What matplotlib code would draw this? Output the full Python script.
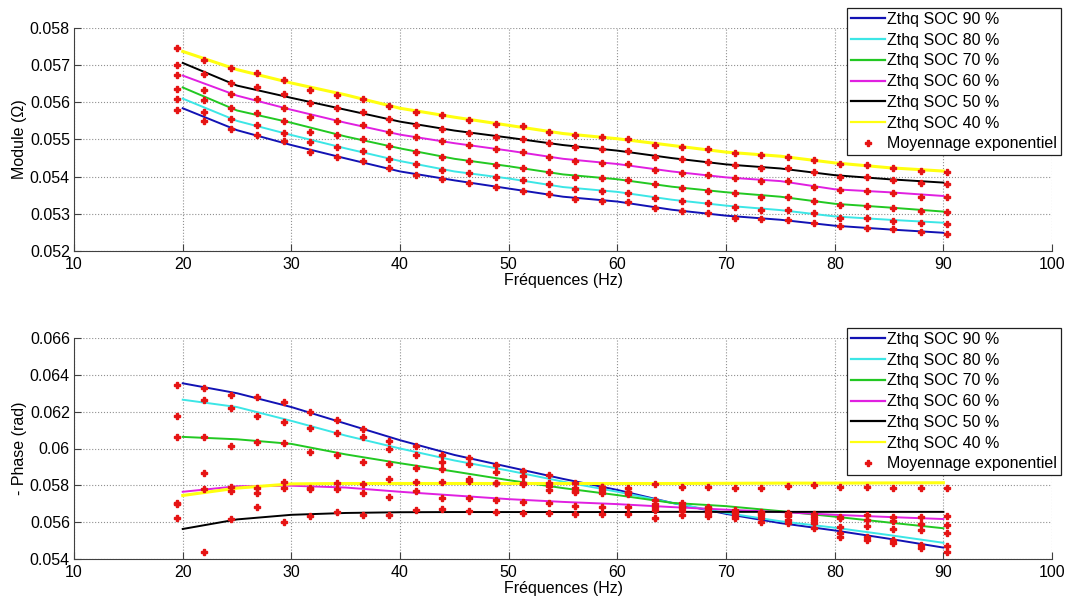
import numpy as np
import matplotlib
matplotlib.use('Agg')
import matplotlib.pyplot as plt
from matplotlib.ticker import FuncFormatter

plt.rcParams['font.family'] = ['Liberation Sans', 'DejaVu Sans']
plt.rcParams['font.size'] = 11.5

# frequencies of the averaged points and of the fitted curves
freq_pts = [19.5, 22.0, 24.4, 26.8, 29.3, 31.7, 34.2, 36.6, 39.0, 41.5,
            43.9, 46.3, 48.8, 51.3, 53.7, 56.1, 58.6, 61.0, 63.5, 65.9,
            68.3, 70.8, 73.2, 75.7, 78.1, 80.5, 83.0, 85.4, 87.9, 90.3]
freq_line = [20, 25, 30, 35, 40, 45, 50, 55, 60, 65, 70, 75, 80, 85, 90]

soc_labels = ['Zthq SOC 90 %', 'Zthq SOC 80 %', 'Zthq SOC 70 %',
              'Zthq SOC 60 %', 'Zthq SOC 50 %', 'Zthq SOC 40 %']
soc_colors = ['#1212b4', '#3ce6e6', '#22c822', '#e020e0', '#000000', '#ffff10']

# --- module (Ohm), fitted curves
mod_90 = [0.05584, 0.05525, 0.05485, 0.05449, 0.05414, 0.05390, 0.05368, 0.05346,
          0.05333, 0.05311, 0.05295, 0.05284, 0.05268, 0.05258, 0.05249]
mod_80 = [0.05610, 0.05550, 0.05512, 0.05476, 0.05442, 0.05414, 0.05395, 0.05372,
          0.05359, 0.05338, 0.05322, 0.05310, 0.05293, 0.05284, 0.05276]
mod_70 = [0.05640, 0.05578, 0.05545, 0.05508, 0.05476, 0.05448, 0.05428, 0.05406,
          0.05393, 0.05373, 0.05358, 0.05346, 0.05327, 0.05317, 0.05306]
mod_60 = [0.05672, 0.05618, 0.05580, 0.05545, 0.05513, 0.05490, 0.05470, 0.05448,
          0.05434, 0.05414, 0.05398, 0.05388, 0.05366, 0.05358, 0.05348]
mod_50 = [0.05706, 0.05645, 0.05612, 0.05580, 0.05548, 0.05524, 0.05505, 0.05485,
          0.05470, 0.05450, 0.05433, 0.05422, 0.05404, 0.05393, 0.05384]
mod_40 = [0.05737, 0.05688, 0.05652, 0.05620, 0.05584, 0.05560, 0.05538, 0.05516,
          0.05502, 0.05484, 0.05466, 0.05455, 0.05437, 0.05424, 0.05415]

# --- module, exponential averaging points
mod_pts_90 = [0.05580, 0.05551, 0.05529, 0.05512, 0.05495, 0.05467, 0.05452, 0.05441, 0.05423, 0.05405,
              0.05394, 0.05384, 0.05371, 0.05362, 0.05353, 0.05339, 0.05335, 0.05332, 0.05315, 0.05308,
              0.05303, 0.05290, 0.05286, 0.05283, 0.05276, 0.05267, 0.05263, 0.05258, 0.05250, 0.05247]
mod_pts_80 = [0.05609, 0.05574, 0.05556, 0.05539, 0.05517, 0.05492, 0.05481, 0.05468, 0.05448, 0.05433,
              0.05418, 0.05409, 0.05400, 0.05390, 0.05379, 0.05366, 0.05361, 0.05357, 0.05342, 0.05335,
              0.05328, 0.05318, 0.05310, 0.05310, 0.05301, 0.05290, 0.05288, 0.05282, 0.05274, 0.05273]
mod_pts_70 = [0.05636, 0.05607, 0.05584, 0.05571, 0.05551, 0.05520, 0.05511, 0.05501, 0.05483, 0.05466,
              0.05454, 0.05442, 0.05432, 0.05424, 0.05412, 0.05400, 0.05396, 0.05391, 0.05380, 0.05369,
              0.05362, 0.05355, 0.05346, 0.05344, 0.05335, 0.05324, 0.05321, 0.05315, 0.05308, 0.05304]
mod_pts_60 = [0.05673, 0.05634, 0.05623, 0.05610, 0.05586, 0.05560, 0.05549, 0.05539, 0.05520, 0.05506,
              0.05496, 0.05484, 0.05474, 0.05465, 0.05454, 0.05442, 0.05436, 0.05433, 0.05418, 0.05411,
              0.05405, 0.05396, 0.05388, 0.05387, 0.05373, 0.05364, 0.05362, 0.05357, 0.05346, 0.05344]
mod_pts_50 = [0.05700, 0.05677, 0.05652, 0.05640, 0.05622, 0.05597, 0.05584, 0.05574, 0.05555, 0.05539,
              0.05529, 0.05517, 0.05508, 0.05502, 0.05490, 0.05479, 0.05474, 0.05470, 0.05454, 0.05447,
              0.05439, 0.05430, 0.05424, 0.05423, 0.05413, 0.05400, 0.05398, 0.05391, 0.05384, 0.05380]
mod_pts_40 = [0.05746, 0.05713, 0.05692, 0.05680, 0.05661, 0.05632, 0.05621, 0.05610, 0.05591, 0.05575,
              0.05565, 0.05553, 0.05542, 0.05535, 0.05520, 0.05511, 0.05506, 0.05502, 0.05486, 0.05481,
              0.05474, 0.05463, 0.05459, 0.05454, 0.05445, 0.05433, 0.05431, 0.05423, 0.05415, 0.05412]

# --- minus phase (rad), fitted curves
ph_90 = [0.06354, 0.06300, 0.06225, 0.06135, 0.06045, 0.05965, 0.05900, 0.05835,
         0.05775, 0.05705, 0.05645, 0.05595, 0.05555, 0.05510, 0.05462]
ph_80 = [0.06265, 0.06225, 0.06150, 0.06070, 0.06000, 0.05935, 0.05880, 0.05820,
         0.05765, 0.05705, 0.05650, 0.05605, 0.05570, 0.05530, 0.05488]
ph_70 = [0.06063, 0.06050, 0.06025, 0.05968, 0.05920, 0.05875, 0.05828, 0.05785,
         0.05747, 0.05705, 0.05687, 0.05660, 0.05630, 0.05598, 0.05567]
ph_60 = [0.05765, 0.05795, 0.05798, 0.05788, 0.05765, 0.05745, 0.05725, 0.05710,
         0.05698, 0.05682, 0.05668, 0.05655, 0.05640, 0.05628, 0.05617]
ph_50 = [0.05563, 0.05615, 0.05640, 0.05650, 0.05654, 0.05655, 0.05655, 0.05655,
         0.05655, 0.05656, 0.05656, 0.05656, 0.05656, 0.05656, 0.05656]
ph_40 = [0.05745, 0.05785, 0.05808, 0.05810, 0.05810, 0.05810, 0.05810, 0.05810,
         0.05810, 0.05810, 0.05811, 0.05812, 0.05812, 0.05813, 0.05814]

# --- minus phase, exponential averaging points
ph_pts_90 = [0.06343, 0.06331, 0.06291, 0.06280, 0.06253, 0.06197, 0.06154, 0.06107, 0.06040, 0.06014,
             0.05967, 0.05946, 0.05913, 0.05877, 0.05855, 0.05810, 0.05792, 0.05751, 0.05720, 0.05687,
             0.05662, 0.05633, 0.05602, 0.05597, 0.05566, 0.05517, 0.05503, 0.05485, 0.05458, 0.05440]
ph_pts_80 = [0.06179, 0.06266, 0.06222, 0.06175, 0.06145, 0.06114, 0.06083, 0.06065, 0.06000, 0.05964,
             0.05924, 0.05915, 0.05873, 0.05852, 0.05814, 0.05788, 0.05774, 0.05765, 0.05698, 0.05675,
             0.05651, 0.05620, 0.05620, 0.05611, 0.05597, 0.05539, 0.05517, 0.05503, 0.05476, 0.05472]
ph_pts_70 = [0.06061, 0.06063, 0.06014, 0.06036, 0.06031, 0.05980, 0.05966, 0.05929, 0.05915, 0.05892,
             0.05886, 0.05834, 0.05814, 0.05805, 0.05774, 0.05770, 0.05756, 0.05765, 0.05680, 0.05705,
             0.05684, 0.05666, 0.05648, 0.05648, 0.05611, 0.05575, 0.05579, 0.05561, 0.05557, 0.05543]
ph_pts_60 = [0.05702, 0.05781, 0.05789, 0.05756, 0.05783, 0.05780, 0.05778, 0.05760, 0.05738, 0.05770,
             0.05732, 0.05729, 0.05720, 0.05711, 0.05705, 0.05687, 0.05684, 0.05680, 0.05666, 0.05662,
             0.05675, 0.05648, 0.05639, 0.05633, 0.05644, 0.05630, 0.05611, 0.05606, 0.05590, 0.05584]
ph_pts_50 = [0.05624, 0.05440, 0.05615, 0.05680, 0.05602, 0.05633, 0.05655, 0.05639, 0.05639, 0.05666,
             0.05671, 0.05660, 0.05657, 0.05648, 0.05648, 0.05644, 0.05644, 0.05642, 0.05620, 0.05639,
             0.05633, 0.05657, 0.05657, 0.05639, 0.05630, 0.05620, 0.05639, 0.05630, 0.05630, 0.05633]
ph_pts_40 = [0.05700, 0.05868, 0.05770, 0.05783, 0.05819, 0.05787, 0.05814, 0.05807, 0.05835, 0.05819,
             0.05819, 0.05823, 0.05810, 0.05810, 0.05796, 0.05765, 0.05790, 0.05783, 0.05807, 0.05792,
             0.05792, 0.05788, 0.05788, 0.05796, 0.05802, 0.05792, 0.05792, 0.05788, 0.05783, 0.05788]

mod_lines = [mod_90, mod_80, mod_70, mod_60, mod_50, mod_40]
mod_pts = [mod_pts_90, mod_pts_80, mod_pts_70, mod_pts_60, mod_pts_50, mod_pts_40]
ph_lines = [ph_90, ph_80, ph_70, ph_60, ph_50, ph_40]
ph_pts = [ph_pts_90, ph_pts_80, ph_pts_70, ph_pts_60, ph_pts_50, ph_pts_40]


def draw_panel(ax, lines, pts, ylim, yticks, ylabel, legend_top):
    for vals, col, lab in zip(lines, soc_colors, soc_labels):
        lw = 2.2 if col == '#ffff10' else 1.4
        ax.plot(freq_line, vals, color=col, lw=lw, label=lab)
    for i, vals in enumerate(pts):
        ax.plot(freq_pts, vals, linestyle='none', marker='P', ms=5,
                color='#e61414', mec='#e61414',
                label='Moyennage exponentiel' if i == 0 else None)
    ax.set_xlim(10, 100)
    ax.set_ylim(*ylim)
    ax.set_xticks(range(10, 101, 10))
    ax.set_yticks(yticks)
    ax.yaxis.set_major_formatter(FuncFormatter(lambda v, p: '%g' % round(v, 4)))
    ax.grid(True, linestyle=':', color='#909090', lw=0.8)
    ax.tick_params(direction='in', length=5, color='#404040', labelsize=11.5)
    ax.tick_params(axis='x', pad=4)
    ax.tick_params(axis='y', pad=3)
    for s in ['top', 'right']:
        ax.spines[s].set_visible(False)
    for s in ['left', 'bottom']:
        ax.spines[s].set_color('#404040')
    ax.set_xlabel('Fréquences (Hz)', labelpad=1)
    ax.set_ylabel(ylabel, labelpad=2)
    leg = ax.legend(loc='upper right', bbox_to_anchor=(0.9944, legend_top),
                    bbox_transform=ax.figure.transFigure, fancybox=False,
                    edgecolor='#202020', framealpha=1, fontsize=11.5,
                    handlelength=2.1, handletextpad=0.15, labelspacing=0.36,
                    borderpad=0.25, borderaxespad=0, numpoints=1)
    leg.get_frame().set_linewidth(0.9)
    for h in leg.get_lines():
        h.set_linewidth(1.6)


fig = plt.figure(figsize=(10.67, 5.98), dpi=100)
ax1 = fig.add_axes([0.0694, 0.5803, 0.9166, 0.3729])
ax2 = fig.add_axes([0.0694, 0.0652, 0.9166, 0.3696])

draw_panel(ax1, mod_lines, mod_pts, (0.052, 0.058),
           [0.052, 0.053, 0.054, 0.055, 0.056, 0.057, 0.058],
           'Module (Ω)', 1 - 8 / 598)
draw_panel(ax2, ph_lines, ph_pts, (0.054, 0.066),
           [0.054, 0.056, 0.058, 0.060, 0.062, 0.064, 0.066],
           '- Phase (rad)', 1 - 328 / 598)

fig.savefig('out.png', dpi=100)
